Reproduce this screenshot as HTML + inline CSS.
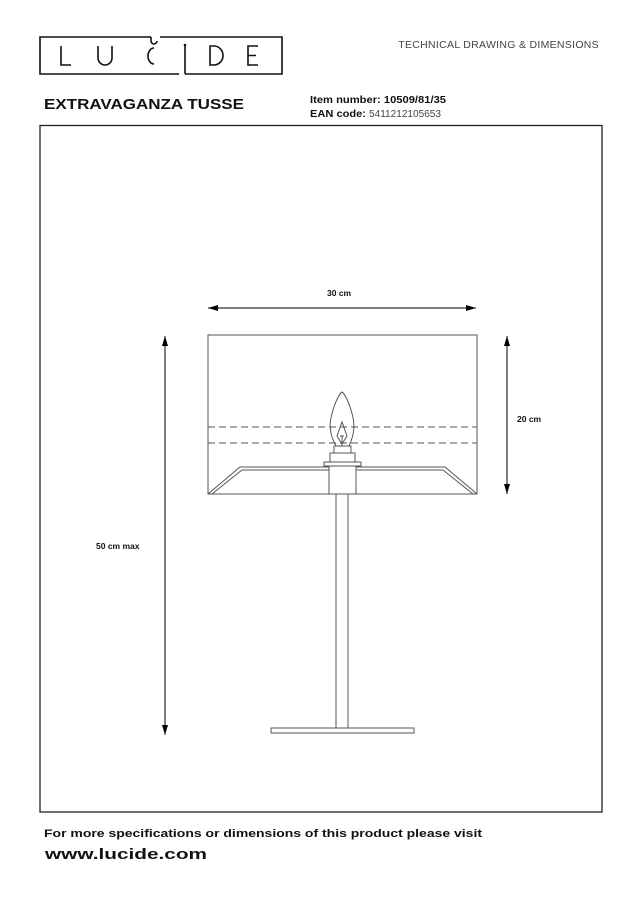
<!DOCTYPE html>
<html><head><style>
html,body{margin:0;padding:0;background:#fff;width:636px;height:900px;overflow:hidden}
svg{display:block}
</style></head><body>
<svg width="636" height="900" viewBox="0 0 636 900" xmlns="http://www.w3.org/2000/svg" font-family="Liberation Sans, sans-serif">
<defs>
<marker id="a" markerWidth="10" markerHeight="6" refX="10" refY="3" orient="auto-start-reverse" markerUnits="userSpaceOnUse"><path d="M0,0 L10,3 L0,6 z" fill="#000"/></marker>
</defs>
<!-- logo -->
<g fill="none" stroke="#111" stroke-width="1.6">
<path d="M151,37 H40 V74 H179"/>
<path d="M160,37 H282 V74 H185"/>
<path d="M151,37 V41 a3,3 0 0 0 3,3 a3,3 0 0 0 3,-3"/>
<path d="M185,74 V46"/>
<path d="M61,46 V65 H71"/>
<path d="M98,46 V58 a7,7 0 0 0 14,0 V46"/>
<path d="M154,48 a6,8 0 1 0 0,16"/>
<path d="M210,46 V65 H214 a9,9.5 0 0 0 0,-19 z"/>
<path d="M258,46 H248 V65 H258 M248,55.5 H256"/>
</g>
<circle cx="185" cy="45" r="1.3" fill="#111"/>
<text x="599" y="48" font-size="10.5" fill="#444" text-anchor="end" letter-spacing="0.3">TECHNICAL DRAWING &amp; DIMENSIONS</text>
<text x="44" y="109" font-size="15" fill="#111" font-weight="bold" textLength="200" lengthAdjust="spacingAndGlyphs">EXTRAVAGANZA TUSSE</text>
<text x="310" y="103" font-size="10" font-weight="bold" fill="#111" textLength="136" lengthAdjust="spacingAndGlyphs">Item number: 10509/81/35</text>
<text x="310" y="117" font-size="10" font-weight="bold" fill="#111" textLength="56" lengthAdjust="spacingAndGlyphs">EAN code:</text>
<text x="369" y="117" font-size="10" fill="#444" textLength="72" lengthAdjust="spacingAndGlyphs">5411212105653</text>
<!-- frame -->
<rect x="40" y="125.5" width="562" height="686.5" fill="none" stroke="#222" stroke-width="1.3"/>
<!-- dims -->
<g stroke="#000" stroke-width="1" fill="none">
<line x1="208" y1="308" x2="476" y2="308" marker-start="url(#a)" marker-end="url(#a)"/>
<line x1="507" y1="336" x2="507" y2="494" marker-start="url(#a)" marker-end="url(#a)"/>
<line x1="165" y1="336" x2="165" y2="735" marker-start="url(#a)" marker-end="url(#a)"/>
</g>
<g font-size="8.5" font-weight="bold" fill="#111">
<text x="327" y="296">30 cm</text>
<text x="517" y="422">20 cm</text>
<text x="96" y="549">50 cm max</text>
</g>
<!-- lamp -->
<g stroke="#555" stroke-width="1" fill="none">
<rect x="208" y="335" width="269" height="159"/>
<line x1="208" y1="427" x2="477" y2="427" stroke-dasharray="7,4"/>
<line x1="208" y1="443" x2="477" y2="443" stroke-dasharray="7,4"/>
<path d="M208,494 L240,467 H329 M356,467 H445 L477,494"/>
<path d="M212,494 L242,470 H329 M356,470 H443 L473,494"/>
<rect x="329" y="466" width="27" height="28"/>
<path d="M324,466 H361 V462 H324 z"/>
<rect x="330" y="453" width="25" height="9"/>
<rect x="334" y="446" width="17" height="7"/>
<path d="M336,446 C330,435 328,425 333,410 C336,400 340,393 342,392 C344,393 348,400 351,410 C356,425 354,435 349,446"/>
<path d="M342,422 L337,436 L342,444 L347,436 z M342,436 V446 M340,436 H344"/>
<rect x="336" y="494" width="12" height="234"/>
<rect x="271" y="728" width="143" height="5"/>
</g>
<!-- footer -->
<text x="44" y="837" font-size="11" font-weight="bold" fill="#111" textLength="438" lengthAdjust="spacingAndGlyphs">For more specifications or dimensions of this product please visit</text>
<text x="45" y="859" font-size="15" font-weight="bold" fill="#111" textLength="162" lengthAdjust="spacingAndGlyphs">www.lucide.com</text>
</svg>
</body></html>
